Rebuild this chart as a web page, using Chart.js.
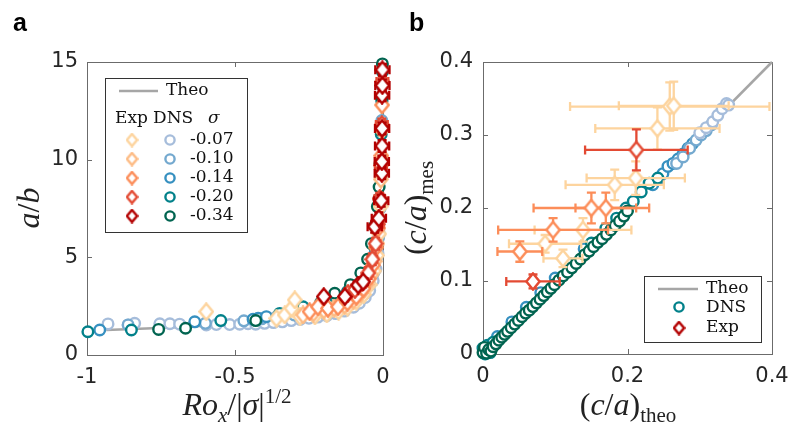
<!DOCTYPE html>
<html>
<head>
<meta charset="utf-8">
<script src="https://cdn.jsdelivr.net/npm/chart.js@4.4.1/dist/chart.umd.min.js"></script>
<style>
    body { margin: 0; width: 800px; height: 437px; background: #fff; position: relative; overflow: hidden; }
    .pane { position: absolute; top: 0; width: 400px; height: 437px; }
    .tag { position: absolute; font-family: 'Liberation Sans', Arial, sans-serif; font-weight: bold; font-size: 25px; color: #000; }
    .ttl { position: absolute; font-family: 'Liberation Serif', serif; font-size: 32px; color: #222; white-space: nowrap; transform: translate(-50%, -50%); }
    .ttl.rot { transform: translate(-50%, -50%) rotate(-90deg); }
    .ttl i { font-style: italic; }
    .ttl sub, .ttl sup { font-size: 21px; }
</style>
</head>
<body>
<div class="pane" style="left:0"><canvas id="chart-a" width="400" height="437"></canvas></div>
<div class="pane" style="left:400px"><canvas id="chart-b" width="400" height="437"></canvas></div>

<div class="tag" style="left:13px;top:8px">a</div>
<div class="tag" style="left:409px;top:8px">b</div>
<div class="ttl rot" style="left:28px;top:208px"><i>a</i>/<i>b</i></div>
<div class="ttl" style="left:237px;top:406px"><i>Ro<sub>x</sub></i>/|<i>σ</i>|<sup>1/2</sup></div>
<div class="ttl rot" style="left:418px;top:208px">(<i>c</i>/<i>a</i>)<sub>mes</sub></div>
<div class="ttl" style="left:628px;top:407px">(<i>c</i>/<i>a</i>)<sub>theo</sub></div>

<script>
// ---------- panel a : a/b vs Ro_x/|sigma|^1/2 ----------
const sigmaLabels = ['-0.07', '-0.10', '-0.14', '-0.20', '-0.34'];
const expColors = ['#fdd49e', '#fdbb84', '#fc8d59', '#e34a33', '#b30000'];
const dnsColors = ['#a6bddb', '#74a9cf', '#3690c0', '#02818a', '#016450'];

const xTicksA = [-1, -0.5, 0];
const yTicksA = [0, 5, 10, 15];

const theoA_x = [-0.935, -0.8, -0.7, -0.6, -0.48, -0.4, -0.3, -0.2, -0.15, -0.1, -0.07, -0.05, -0.035, -0.025, -0.018, -0.012, -0.008, -0.005, -0.003];
const theoA_y = [1.28, 1.36, 1.42, 1.5, 1.62, 1.7, 1.82, 2.0, 2.15, 2.4, 2.7, 3.05, 3.5, 4.0, 4.6, 5.6, 7.0, 9.5, 13];

const dnsA_007_x = [-0.929, -0.861, -0.839, -0.754, -0.72, -0.687, -0.597, -0.563, -0.518, -0.484, -0.456, -0.43, -0.4, -0.37, -0.34, -0.31, -0.28, -0.25, -0.22, -0.19, -0.16, -0.13, -0.1, -0.08, -0.06, -0.045, -0.033, -0.024, -0.017, -0.012, -0.008, -0.005, -0.003];
const dnsA_007_y = [1.59, 1.54, 1.62, 1.6, 1.6, 1.58, 1.54, 1.56, 1.56, 1.58, 1.6, 1.58, 1.62, 1.66, 1.7, 1.76, 1.82, 1.88, 1.94, 2.02, 2.12, 2.25, 2.45, 2.65, 2.95, 3.3, 3.8, 4.4, 5.2, 6.2, 7.8, 10.0, 13.0];
const dnsA_010_x = [-0.861, -0.6, -0.47, -0.41, -0.36, -0.3, -0.24, -0.18, -0.13, -0.09, -0.065, -0.045, -0.032, -0.022, -0.015, -0.01, -0.006, -0.004];
const dnsA_010_y = [1.54, 1.62, 1.75, 1.85, 1.95, 2.05, 2.15, 2.3, 2.5, 2.8, 3.1, 3.6, 4.2, 5.0, 6.0, 7.5, 9.5, 12.0];
const dnsA_014_x = [-0.957, -0.636, -0.439, -0.422, -0.394, -0.33, -0.26, -0.2, -0.15, -0.11, -0.08, -0.055, -0.038, -0.026, -0.018, -0.012, -0.008, -0.005, -0.003];
const dnsA_014_y = [1.28, 1.7, 1.83, 1.88, 1.96, 2.1, 2.25, 2.45, 2.65, 2.95, 3.3, 3.8, 4.4, 5.3, 6.4, 7.8, 9.6, 11.8, 13.8];
const dnsA_020_x = [-0.997, -0.85, -0.548, -0.349, -0.27, -0.21, -0.16, -0.12, -0.085, -0.06, -0.042, -0.03, -0.021, -0.014, -0.009, -0.006, -0.004, -0.002];
const dnsA_020_y = [1.19, 1.28, 1.76, 2.13, 2.47, 2.7, 2.95, 3.25, 3.6, 4.1, 4.8, 5.6, 6.7, 8.0, 9.6, 11.3, 13.0, 14.5];
const dnsA_034_x = [-0.758, -0.667, -0.43, -0.163, -0.11, -0.075, -0.052, -0.039, -0.028, -0.019, -0.013, -0.01, -0.007, -0.004, -0.002];
const dnsA_034_y = [1.31, 1.37, 1.76, 3.16, 3.6, 4.2, 4.9, 5.7, 6.6, 7.6, 8.6, 9.8, 11.5, 13.2, 14.9];

const expA_007_x = [-0.597, -0.36, -0.332, -0.309, -0.298, -0.28, -0.23, -0.19, -0.15, -0.12, -0.09, -0.065, -0.045, -0.03, -0.02, -0.013, -0.008];
const expA_007_y = [2.22, 1.88, 2.05, 2.39, 2.82, 1.96, 2.0, 2.1, 2.25, 2.45, 2.75, 3.1, 3.6, 4.3, 5.1, 6.2, 7.6];
const expA_010_x = [-0.27, -0.235, -0.2, -0.165, -0.13, -0.1, -0.075, -0.055, -0.04, -0.028, -0.019, -0.012, -0.007, -0.004];
const expA_010_y = [2.05, 2.15, 2.3, 2.4, 2.55, 2.8, 3.15, 3.6, 4.1, 4.8, 5.7, 7.0, 9.0, 11.5];
const expA_014_x = [-0.248, -0.22, -0.186, -0.152, -0.12, -0.09, -0.066, -0.048, -0.034, -0.024, -0.016, -0.01, -0.006, -0.003];
const expA_014_y = [2.22, 2.47, 2.39, 2.47, 2.7, 3.0, 3.4, 3.9, 4.6, 5.5, 6.5, 8.0, 10.2, 12.8];
const expA_020_x = [-0.118, -0.095, -0.07, -0.05, -0.036, -0.025, -0.017, -0.011, -0.007, -0.004, -0.002];
const expA_020_y = [3.16, 3.35, 3.7, 4.2, 4.9, 5.7, 6.7, 8.0, 9.7, 11.8, 14.0];
const expA_020_xErr = [0.012, 0.012, 0.014, 0.014, 0.016, 0.016, 0.018, 0.018, 0.02, 0.02, 0.02];
const expA_020_yErr = [0.25, 0.25, 0.25, 0.3, 0.3, 0.3, 0.3, 0.3, 0.3, 0.3, 0.3];
const expA_034_x = [-0.2, -0.129, -0.084, -0.067, -0.028, -0.014, -0.006, -0.004, -0.004, -0.003, -0.003, -0.003, -0.002, -0.002];
const expA_034_y = [2.99, 2.99, 3.58, 3.75, 6.57, 7.0, 7.9, 9.3, 9.9, 10.7, 11.6, 13.3, 13.8, 14.6];
const expA_034_xErr = [0.008, 0.008, 0.015, 0.015, 0.024, 0.024, 0.024, 0.024, 0.024, 0.024, 0.024, 0.024, 0.024, 0.024];
const expA_034_yErr = [0.15, 0.15, 0.2, 0.2, 0.3, 0.3, 0.3, 0.3, 0.3, 0.3, 0.3, 0.3, 0.3, 0.3];

// ---------- panel b : (c/a)_mes vs (c/a)_theo ----------
const ticksB = { x: [0, 0.2, 0.4], y: [0, 0.1, 0.2, 0.3, 0.4] };
const theoB_x = [0, 0.4];
const theoB_y = [0, 0.4];

const dnsB_034_x = [0.0, 0.002, 0.005, 0.008, 0.011, 0.014, 0.018, 0.022, 0.026, 0.03, 0.034, 0.039, 0.044, 0.049, 0.054, 0.059, 0.064, 0.069, 0.074, 0.079, 0.084, 0.089, 0.094, 0.099, 0.105, 0.111, 0.117, 0.123, 0.129, 0.135, 0.141, 0.147, 0.153, 0.159, 0.165, 0.171, 0.177, 0.183, 0.189, 0.195, 0.2];
const dnsB_034_y = [0.002, 0.009, 0.001, 0.006, 0.004, 0.01, 0.014, 0.019, 0.023, 0.027, 0.031, 0.036, 0.041, 0.046, 0.051, 0.056, 0.06, 0.065, 0.07, 0.075, 0.08, 0.085, 0.09, 0.095, 0.101, 0.107, 0.112, 0.118, 0.124, 0.13, 0.136, 0.141, 0.147, 0.153, 0.158, 0.164, 0.17, 0.176, 0.182, 0.189, 0.196];
const dnsB_020_x = [0.0, 0.003, 0.006, 0.01, 0.014, 0.15, 0.17, 0.185, 0.198, 0.208, 0.219, 0.23, 0.242];
const dnsB_020_y = [0.008, 0.0, 0.012, 0.002, 0.016, 0.152, 0.172, 0.186, 0.2, 0.209, 0.222, 0.234, 0.241];
const dnsB_014_x = [0.02, 0.04, 0.06, 0.08, 0.1, 0.12, 0.14, 0.235, 0.243, 0.249, 0.256, 0.263, 0.27, 0.277, 0.284, 0.29];
const dnsB_014_y = [0.024, 0.044, 0.064, 0.084, 0.104, 0.124, 0.144, 0.232, 0.24, 0.247, 0.257, 0.261, 0.267, 0.274, 0.282, 0.288];
const dnsB_010_x = [0.268, 0.277, 0.286, 0.295, 0.302, 0.309, 0.316];
const dnsB_010_y = [0.261, 0.27, 0.282, 0.293, 0.3, 0.306, 0.314];
const dnsB_007_x = [0.3, 0.309, 0.318, 0.325, 0.331, 0.337, 0.34];
const dnsB_007_y = [0.303, 0.31, 0.318, 0.327, 0.336, 0.343, 0.341];

const expB_007_x = [0.2585, 0.264, 0.2414, 0.2114, 0.1823, 0.1384, 0.086, 0.1107];
const expB_007_y = [0.339, 0.34, 0.309, 0.241, 0.2317, 0.17, 0.151, 0.131];
const expB_007_xErr = [0.138, 0.076, 0.086, 0.068, 0.068, 0.067, 0.05, 0.027];
const expB_007_yErr = [0.033, 0.033, 0.029, 0.023, 0.021, 0.016, 0.012, 0.012];
const expB_014_x = [0.15, 0.17, 0.097, 0.051];
const expB_014_y = [0.2, 0.2, 0.17, 0.1404];
const expB_014_xErr = [0.08, 0.042, 0.076, 0.031];
const expB_014_yErr = [0.021, 0.021, 0.016, 0.014];
const expB_020_x = [0.2123, 0.0692];
const expB_020_y = [0.2796, 0.0994];
const expB_020_xErr = [0.071, 0.037];
const expB_020_yErr = [0.028, 0.0095];

// ---------- helpers ----------
const zip = (xs, ys) => xs.map((x, i) => ({ x: x, y: ys[i] }));
const MARK_R = 5.3;

// MATLAB style diamond: a bit taller than wide, white face
function diamond(color, w, h) {
    const c = document.createElement('canvas');
    c.width = w;
    c.height = h;
    const g = c.getContext('2d');
    g.beginPath();
    g.moveTo(w / 2, 1.4);
    g.lineTo(w - 1.4, h / 2);
    g.lineTo(w / 2, h - 1.4);
    g.lineTo(1.4, h / 2);
    g.closePath();
    g.fillStyle = '#fff';
    g.fill();
    g.lineWidth = 2.4;
    g.strokeStyle = color;
    g.stroke();
    return c;
}

function dnsSet(xs, ys, color, order) {
    return {
        data: zip(xs, ys), pointStyle: 'circle', pointRadius: MARK_R, borderWidth: 2.4,
        borderColor: color, backgroundColor: '#fff', showLine: false, clip: false, order: order
    };
}

function expSet(xs, ys, color, order, xErr, yErr) {
    return {
        data: zip(xs, ys), pointStyle: diamond(color, 16, 19), pointRadius: 7,
        borderColor: color, backgroundColor: '#fff', showLine: false, clip: false, order: order,
        xErr: xErr, yErr: yErr
    };
}

function theoSet(xs, ys) {
    return {
        data: zip(xs, ys), showLine: true, pointRadius: 0, borderColor: '#a6a6a6',
        borderWidth: 2.5, fill: false, clip: false, order: 100
    };
}

// error bars are drawn just before each dataset's own markers
const errorBars = {
    id: 'errorBars',
    beforeDatasetDraw(chart, args) {
        const ds = chart.data.datasets[args.index];
        if (!ds.xErr && !ds.yErr) return;
        const xs = chart.scales.x, ys = chart.scales.y;
        const ctx = chart.ctx;
        const cap = 4.5;
        ctx.save();
        ctx.strokeStyle = ds.borderColor;
        ctx.lineWidth = 2.3;
        ds.data.forEach((p, i) => {
            const px = xs.getPixelForValue(p.x), py = ys.getPixelForValue(p.y);
            ctx.beginPath();
            if (ds.xErr) {
                const x0 = xs.getPixelForValue(p.x - ds.xErr[i]);
                const x1 = xs.getPixelForValue(p.x + ds.xErr[i]);
                ctx.moveTo(x0, py); ctx.lineTo(x1, py);
                ctx.moveTo(x0, py - cap); ctx.lineTo(x0, py + cap);
                ctx.moveTo(x1, py - cap); ctx.lineTo(x1, py + cap);
            }
            if (ds.yErr) {
                const y0 = ys.getPixelForValue(p.y - ds.yErr[i]);
                const y1 = ys.getPixelForValue(p.y + ds.yErr[i]);
                ctx.moveTo(px, y0); ctx.lineTo(px, y1);
                ctx.moveTo(px - cap, y0); ctx.lineTo(px + cap, y0);
                ctx.moveTo(px - cap, y1); ctx.lineTo(px + cap, y1);
            }
            ctx.stroke();
        });
        ctx.restore();
    }
};

// box with inward ticks on all four sides
const frame = {
    id: 'frame',
    beforeDatasetsDraw(chart) {
        const { left, right, top, bottom } = chart.chartArea;
        const ctx = chart.ctx;
        const tl = 5;
        ctx.save();
        ctx.strokeStyle = '#6b6b6b';
        ctx.lineWidth = 1;
        ctx.strokeRect(Math.round(left) + 0.5, Math.round(top) + 0.5, Math.round(right - left), Math.round(bottom - top));
        ctx.beginPath();
        chart.scales.x.ticks.forEach(t => {
            const px = Math.round(chart.scales.x.getPixelForValue(t.value)) + 0.5;
            ctx.moveTo(px, bottom); ctx.lineTo(px, bottom - tl);
            ctx.moveTo(px, top); ctx.lineTo(px, top + tl);
        });
        chart.scales.y.ticks.forEach(t => {
            const py = Math.round(chart.scales.y.getPixelForValue(t.value)) + 0.5;
            ctx.moveTo(left, py); ctx.lineTo(left + tl, py);
            ctx.moveTo(right, py); ctx.lineTo(right - tl, py);
        });
        ctx.stroke();
        ctx.restore();
    }
};

function drawCircle(ctx, x, y, color) {
    ctx.beginPath();
    ctx.arc(x, y, 4.6, 0, Math.PI * 2);
    ctx.fillStyle = '#fff';
    ctx.fill();
    ctx.lineWidth = 2.4;
    ctx.strokeStyle = color;
    ctx.stroke();
}

function drawDiamond(ctx, x, y, color) {
    const img = diamond(color, 13, 15);
    ctx.drawImage(img, x - img.width / 2, y - img.height / 2);
}

function legendBox(ctx, x0, y0, x1, y1) {
    ctx.fillStyle = '#fff';
    ctx.fillRect(x0, y0, x1 - x0, y1 - y0);
    ctx.strokeStyle = '#333';
    ctx.lineWidth = 1;
    ctx.strokeRect(x0 + 0.5, y0 + 0.5, x1 - x0, y1 - y0);
}

function theoSample(ctx, x0, x1, y) {
    ctx.beginPath();
    ctx.moveTo(x0, y); ctx.lineTo(x1, y);
    ctx.strokeStyle = '#a6a6a6';
    ctx.lineWidth = 2.5;
    ctx.stroke();
}

const legendA = {
    id: 'legendA',
    afterDraw(chart) {
        const ctx = chart.ctx;
        ctx.save();
        legendBox(ctx, 105, 78, 247, 232);
        theoSample(ctx, 119, 158, 91);
        ctx.fillStyle = '#111';
        ctx.textBaseline = 'middle';
        ctx.font = '17px "DejaVu Serif"';
        ctx.fillText('Theo', 166, 91);
        ctx.fillText('Exp', 115, 119);
        ctx.fillText('DNS', 153, 119);
        ctx.font = 'italic 17px "DejaVu Serif"';
        ctx.fillText('σ', 208, 119);
        const rows = [140, 159, 178, 197, 216];
        rows.forEach((ry, i) => {
            drawDiamond(ctx, 132, ry, expColors[i]);
            drawCircle(ctx, 170, ry, dnsColors[i]);
            ctx.fillStyle = '#111';
            ctx.font = '17px "DejaVu Serif"';
            ctx.fillText(sigmaLabels[i], 190, ry);
        });
        ctx.restore();
    }
};

const legendB = {
    id: 'legendB',
    afterDraw(chart) {
        const ctx = chart.ctx;
        ctx.save();
        legendBox(ctx, 244, 276, 361, 342);
        theoSample(ctx, 258, 298, 289);
        drawCircle(ctx, 279, 307, dnsColors[3]);
        drawDiamond(ctx, 279, 328, expColors[4]);
        ctx.fillStyle = '#111';
        ctx.textBaseline = 'middle';
        ctx.font = '17px "DejaVu Serif"';
        ctx.fillText('Theo', 306, 289);
        ctx.fillText('DNS', 306, 308);
        ctx.fillText('Exp', 306, 328);
        ctx.restore();
    }
};

function axis(min, max, ticks, fitKey, fitSize, pad) {
    return {
        type: 'linear', min: min, max: max,
        grid: { display: false, drawTicks: false },
        border: { display: false },
        afterBuildTicks: s => { s.ticks = ticks.map(v => ({ value: v })); },
        afterFit: s => { s[fitKey] = fitSize; },
        ticks: {
            padding: pad, color: '#262626',
            font: { family: 'DejaVu Sans', size: 21 },
            callback: v => String(v)
        }
    };
}

function baseOptions(padding, scales) {
    return {
        responsive: false,
        animation: false,
        events: [],
        devicePixelRatio: 1,
        layout: { padding: padding },
        plugins: { legend: { display: false }, tooltip: { enabled: false } },
        scales: scales
    };
}

new Chart(document.getElementById('chart-a'), {
    type: 'scatter',
    data: {
        datasets: [
            theoSet(theoA_x, theoA_y),
            dnsSet(dnsA_007_x, dnsA_007_y, dnsColors[0], 60),
            dnsSet(dnsA_010_x, dnsA_010_y, dnsColors[1], 59),
            dnsSet(dnsA_014_x, dnsA_014_y, dnsColors[2], 58),
            dnsSet(dnsA_020_x, dnsA_020_y, dnsColors[3], 57),
            dnsSet(dnsA_034_x, dnsA_034_y, dnsColors[4], 56),
            expSet(expA_007_x, expA_007_y, expColors[0], 20),
            expSet(expA_010_x, expA_010_y, expColors[1], 19),
            expSet(expA_014_x, expA_014_y, expColors[2], 18),
            expSet(expA_020_x, expA_020_y, expColors[3], 17, expA_020_xErr, expA_020_yErr),
            expSet(expA_034_x, expA_034_y, expColors[4], 16, expA_034_xErr, expA_034_yErr)
        ]
    },
    options: baseOptions({ left: 0, top: 62, right: 17, bottom: 0 }, {
        x: axis(-1, 0, xTicksA, 'height', 82, 10),
        y: axis(0, 15, yTicksA, 'width', 87, 9)
    }),
    plugins: [frame, errorBars, legendA]
});

new Chart(document.getElementById('chart-b'), {
    type: 'scatter',
    data: {
        datasets: [
            theoSet(theoB_x, theoB_y),
            dnsSet(dnsB_014_x, dnsB_014_y, dnsColors[2], 62),
            dnsSet(dnsB_020_x, dnsB_020_y, dnsColors[3], 61),
            dnsSet(dnsB_034_x, dnsB_034_y, dnsColors[4], 60),
            dnsSet(dnsB_010_x, dnsB_010_y, dnsColors[1], 59),
            dnsSet(dnsB_007_x, dnsB_007_y, dnsColors[0], 58),
            expSet(expB_007_x, expB_007_y, expColors[0], 20, expB_007_xErr, expB_007_yErr),
            expSet(expB_014_x, expB_014_y, expColors[2], 19, expB_014_xErr, expB_014_yErr),
            expSet(expB_020_x, expB_020_y, expColors[3], 18, expB_020_xErr, expB_020_yErr)
        ]
    },
    options: baseOptions({ left: 0, top: 62, right: 28, bottom: 0 }, {
        x: axis(0, 0.4, ticksB.x, 'height', 83, 10),
        y: axis(0, 0.4, ticksB.y, 'width', 83, 10)
    }),
    plugins: [frame, errorBars, legendB]
});
</script>
</body>
</html>
